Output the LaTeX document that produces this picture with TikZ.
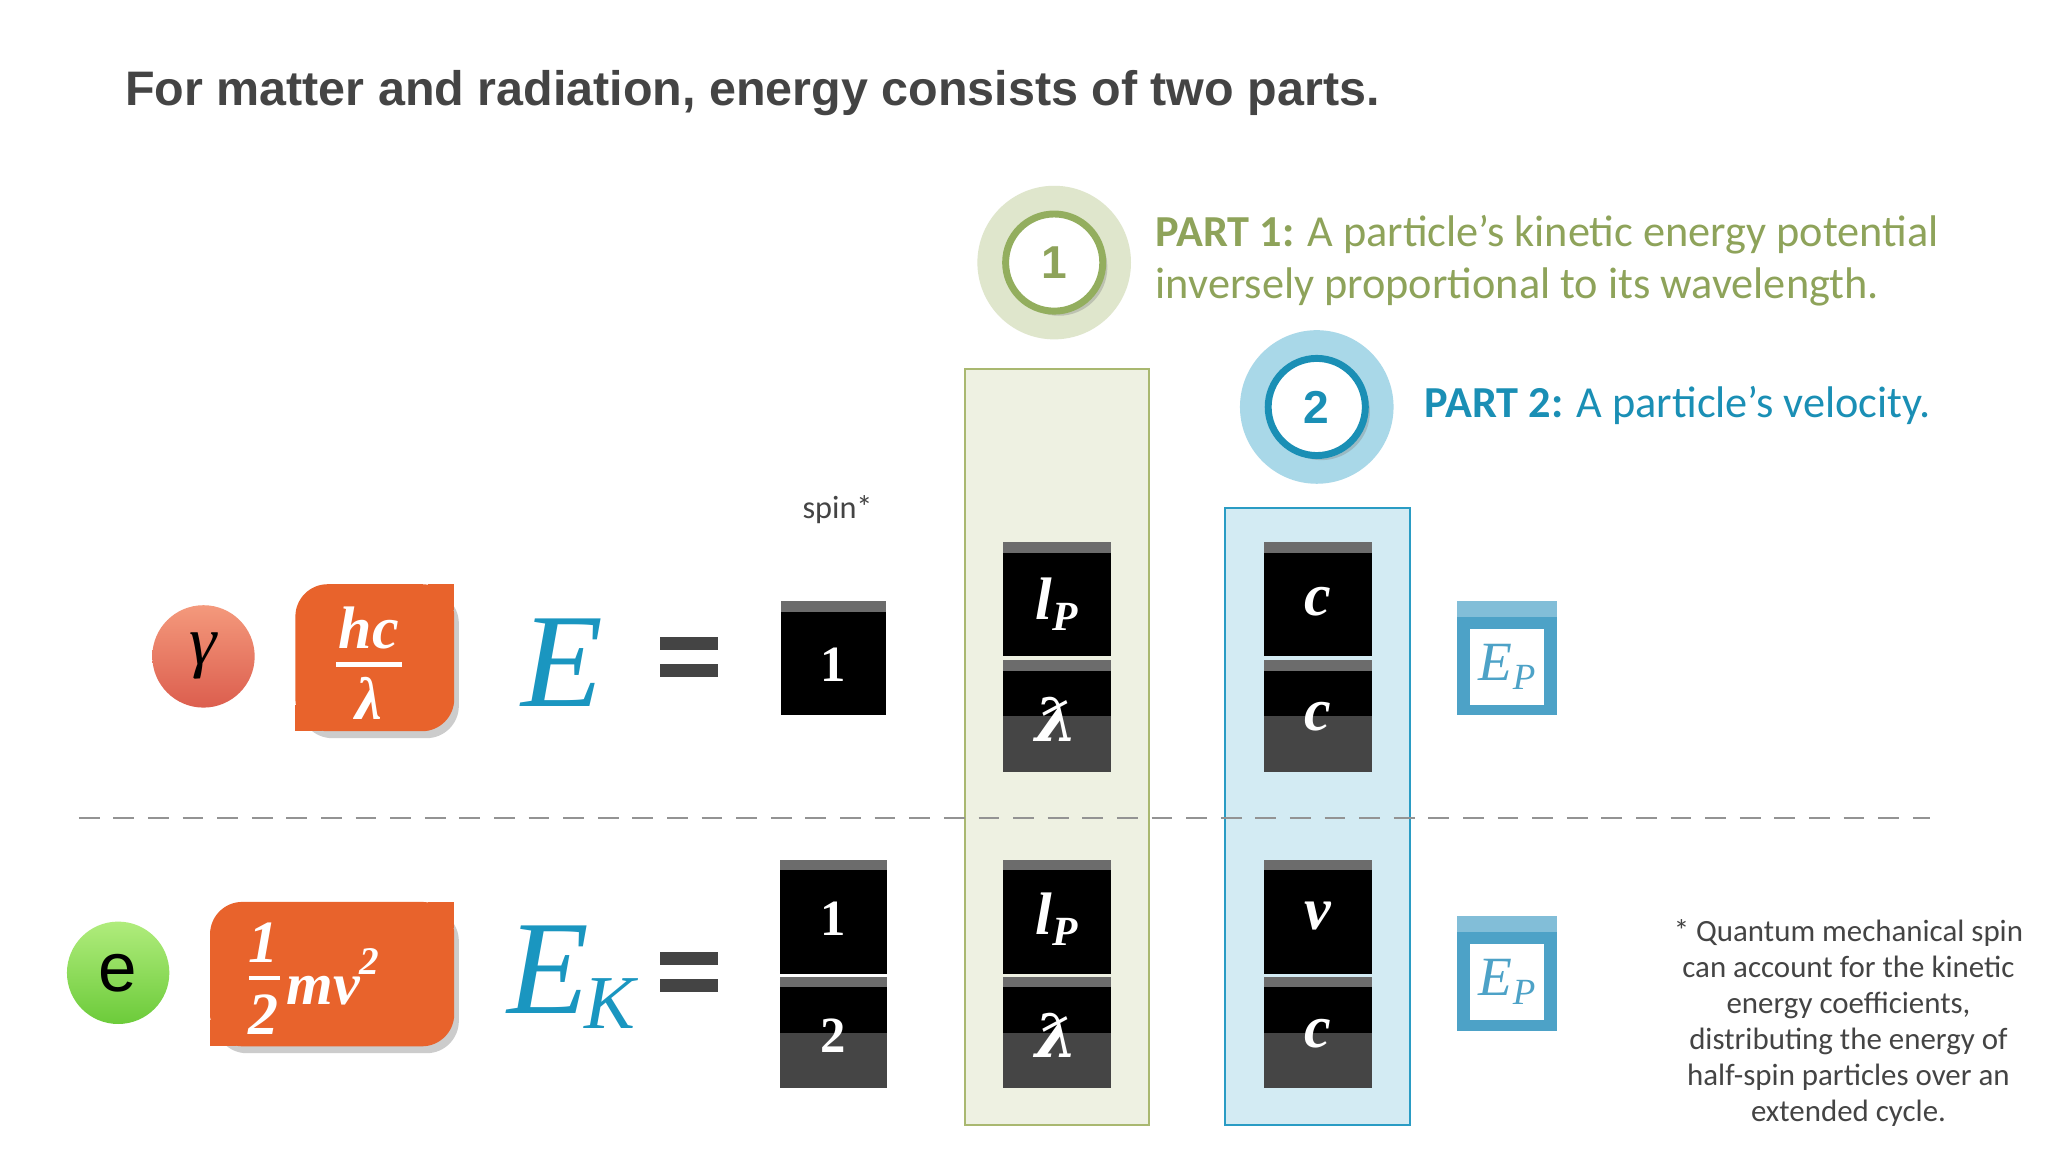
\documentclass[tikz,border=0pt]{standalone}
\usepackage{fontspec}
\setmainfont{Liberation Serif}
\newfontfamily\titlefont{Liberation Sans}
\newfontfamily\calfont{Carlito}
\newfontfamily\dvs{DejaVu Serif}
\usetikzlibrary{shadows,calc}
\definecolor{ttl}{HTML}{444444}
\definecolor{pgreen}{HTML}{8EA35A}
\definecolor{pgreenring}{HTML}{93AE5E}
\definecolor{phalo}{HTML}{DFE6CC}
\definecolor{pblue}{HTML}{1A8FB5}
\definecolor{bhalo}{HTML}{A9D8E8}
\definecolor{gcol}{HTML}{EEF1E2}
\definecolor{gcolb}{HTML}{A9B870}
\definecolor{bcol}{HTML}{D3EBF3}
\definecolor{bcolb}{HTML}{2A9CC4}
\definecolor{orng}{HTML}{E8632C}
\definecolor{eblue}{HTML}{1A96C0}
\definecolor{epbox}{HTML}{4DA2C7}
\definecolor{salmtop}{HTML}{F4997C}
\definecolor{salmbot}{HTML}{DC5E4E}
\definecolor{grtop}{HTML}{B0EC7C}
\definecolor{grbot}{HTML}{6CCB3A}
\tikzset{
  blk/.style={fill=black,inner sep=0,text=white,font=\fontsize{26}{26}\selectfont\itshape\bfseries},
  tnum/.style={font=\fontsize{22}{22}\selectfont\bfseries,text=white},
  eqbar/.style={fill=ttl,draw=none},
  halo/.style={circle,inner sep=0,minimum size=66},
  otxt/.style={text=white,inner sep=0,font=\fontsize{26}{26}\selectfont\bfseries\itshape},
}
\newcommand{\blocktop}[5]{% name x1 y1 x2 y2
  \node[blk,minimum width={(#4-#2)*0.2mm},minimum height={(#5-#3)*0.2mm}] (#1) at ({(#2+#4)/2},{(#3+#5)/2}) {};
  \fill[gray!85!black] (#2,#3) rectangle (#4,#3+8);}
\newcommand{\blockbot}[5]{%
  \node[blk,minimum width={(#4-#2)*0.2mm},minimum height={(#5-#3)*0.2mm}] (#1) at ({(#2+#4)/2},{(#3+#5)/2}) {};
  \fill[black!73] (#2,{(#3+#5)/2}) rectangle (#4,#5);
  \fill[gray!85!black] (#2,#3) rectangle (#4,#3+8);}
\newcommand{\obox}[4]{% x1 y1 x2 y2
  \fill[orng,rounded corners=14,drop shadow={shadow xshift=2pt,shadow yshift=-3pt,opacity=0.4}] (#1,#2) rectangle (#3,#4);
  \fill[orng] (#3-20,#2) rectangle (#3,#2+20);
  \fill[orng] (#1,#4-20) rectangle (#1+20,#4);}
\begin{document}
\begin{tikzpicture}[x=0.2mm,y=-0.2mm]
\useasboundingbox (0,0) rectangle (1560,877.5);
\fill[white] (0,0) rectangle (1560,877.5);
% title
\node[anchor=base west,inner sep=0,text=ttl,font=\titlefont\bfseries\fontsize{21}{24}\selectfont] (title) at (95,80) {For matter and radiation, energy consists of two parts.};
% columns
\node[draw=gcolb,fill=gcol,line width=0.8pt,minimum width={140*0.2mm},minimum height={576*0.2mm},inner sep=0] (gcolumn) at (805,569) {};
\node[draw=bcolb,fill=bcol,line width=0.8pt,minimum width={141*0.2mm},minimum height={470*0.2mm},inner sep=0] (bcolumn) at (1003.5,622) {};
% dashed line
\coordinate (dl) at (60,623); \coordinate (dr) at (1470,623);
\draw[gray!85,line width=1.1pt,dash pattern=on 9pt off 6pt] (dl) -- (dr);
% part badges
\node[halo,fill=phalo,minimum size={117*0.2mm}] (h1) at (803,200) {};
\node[circle,fill=white,draw=pgreenring,line width=3pt,minimum size={74*0.2mm},drop shadow={shadow xshift=2pt,shadow yshift=-2pt,opacity=0.35},font=\titlefont\bfseries\fontsize{20}{20}\selectfont,text=pgreen] (c1) at (803,200) {1};
\node[halo,fill=bhalo,minimum size={117*0.2mm}] (h2) at (1003,310) {};
\node[circle,fill=white,draw=pblue,line width=3pt,minimum size={74*0.2mm},drop shadow={shadow xshift=2pt,shadow yshift=-2pt,opacity=0.35},font=\titlefont\bfseries\fontsize{20}{20}\selectfont,text=pblue] (c2) at (1003,310) {2};
\node[anchor=north west,inner sep=0,align=left,text=pgreen,font=\calfont\fontsize{19.2}{22.5}\selectfont] (p1) at (880,164) {\textbf{PART 1:} A particle’s kinetic energy potential\\inversely proportional to its wavelength.};
\node[anchor=base west,inner sep=0,text=pblue,font=\calfont\fontsize{19.2}{22.5}\selectfont] (p2) at (1085,318) {\textbf{PART 2:} A particle’s velocity.};
% spin
\node[text=ttl,font=\calfont\fontsize{14}{14}\selectfont,inner sep=0] (spin) at (638,388) {spin*};
% gamma row
\shade[top color=salmtop,bottom color=salmbot] (155,500) circle (39);
\node[circle,inner sep=0,minimum size={78*0.2mm},font=\fontsize{30}{30}\selectfont\itshape] (gam) at (155,500) {γ};
\obox{225}{445}{346}{557}
\node[otxt] (hc) at (281,478) {hc};
\node[otxt] (lam) at (281,532) {λ};
\draw[white,line width=2pt] (256,506) -- (306,506);
\node[text=eblue,inner sep=0,font=\fontsize{58}{58}\selectfont\itshape] (E) at (428,505) {E};
\node[eqbar,minimum width={44*0.2mm},minimum height={10*0.2mm},inner sep=0] (eq1a) at (525,490) {};
\node[eqbar,minimum width={44*0.2mm},minimum height={10*0.2mm},inner sep=0] (eq1b) at (525,511) {};
\blocktop{one1}{595}{458}{675}{545}
\node[tnum] at (635,506) {1};
\blocktop{lp1}{764}{413}{846}{500}
\node[blk] at (805,460) {l\raisebox{-0.4ex}{\fontsize{18}{18}\selectfont P}};
\blockbot{lb1}{764}{503}{846}{588}
\node[blk,fill=none] at (805,548) {\dvs ƛ};
\blocktop{c1a}{963}{413}{1045}{500}
\node[blk,fill=none] at (1004,458) {c};
\blockbot{c1b}{963}{503}{1045}{588}
\node[blk,fill=none] at (1004,546) {c};
% Ep boxes
\foreach \n/\yy in {ep1/458,ep2/698}{
  \fill[epbox] (1110,\yy) rectangle (1186,\yy+87);
  \fill[epbox!70!white] (1110,\yy) rectangle (1186,\yy+12);
  \node[fill=white,inner sep=0,minimum width={56*0.2mm},minimum height={58*0.2mm},text=epbox,font=\fontsize{24}{24}\selectfont\itshape] (\n) at (1148,\yy+50) {E\raisebox{-0.35ex}{\fontsize{16}{16}\selectfont P}};
}
% electron row
\shade[top color=grtop,bottom color=grbot] (90,741) circle (39);
\node[circle,inner sep=0,minimum size={78*0.2mm},font=\titlefont\fontsize{30}{30}\selectfont] (el) at (90,741) {e};
\obox{160}{687}{346}{797}
\node[otxt] (half1) at (201,718) {1};
\node[otxt] (half2) at (201,773) {2};
\draw[white,line width=2pt] (190,745) -- (213,745);
\node[otxt,anchor=west] (mv) at (218,744) {mv\raisebox{1.1ex}{\fontsize{17}{17}\selectfont 2}};
\node[text=eblue,inner sep=0,font=\fontsize{58}{58}\selectfont\itshape,anchor=base west] (EK) at (386,772) {E\kern-2pt\raisebox{-0.25ex}{\fontsize{33}{33}\selectfont K}};
\node[eqbar,minimum width={44*0.2mm},minimum height={10*0.2mm},inner sep=0] (eq2a) at (525,730) {};
\node[eqbar,minimum width={44*0.2mm},minimum height={10*0.2mm},inner sep=0] (eq2b) at (525,751) {};
\blocktop{one2}{594}{655}{676}{742}
\node[tnum] at (635,700) {1};
\blockbot{two2}{594}{744}{676}{829}
\node[tnum] at (635,789) {2};
\blocktop{lp2}{764}{655}{846}{742}
\node[blk] at (805,700) {l\raisebox{-0.4ex}{\fontsize{18}{18}\selectfont P}};
\blockbot{lb2}{764}{744}{846}{829}
\node[blk,fill=none] at (805,789) {\dvs ƛ};
\blocktop{v2}{963}{655}{1045}{742}
\node[blk,fill=none] at (1004,698) {v};
\blockbot{c2b}{963}{744}{1045}{829}
\node[blk,fill=none] at (1004,787) {c};
% footnote
\node[align=center,text=ttl,inner sep=0,anchor=north,font=\calfont\fontsize{13.4}{15.6}\selectfont] (fn) at (1408,700) {* Quantum mechanical spin\\can account for the kinetic\\energy coefficients,\\distributing the energy of\\half-spin particles over an\\extended cycle.};
\end{tikzpicture}
\end{document}
